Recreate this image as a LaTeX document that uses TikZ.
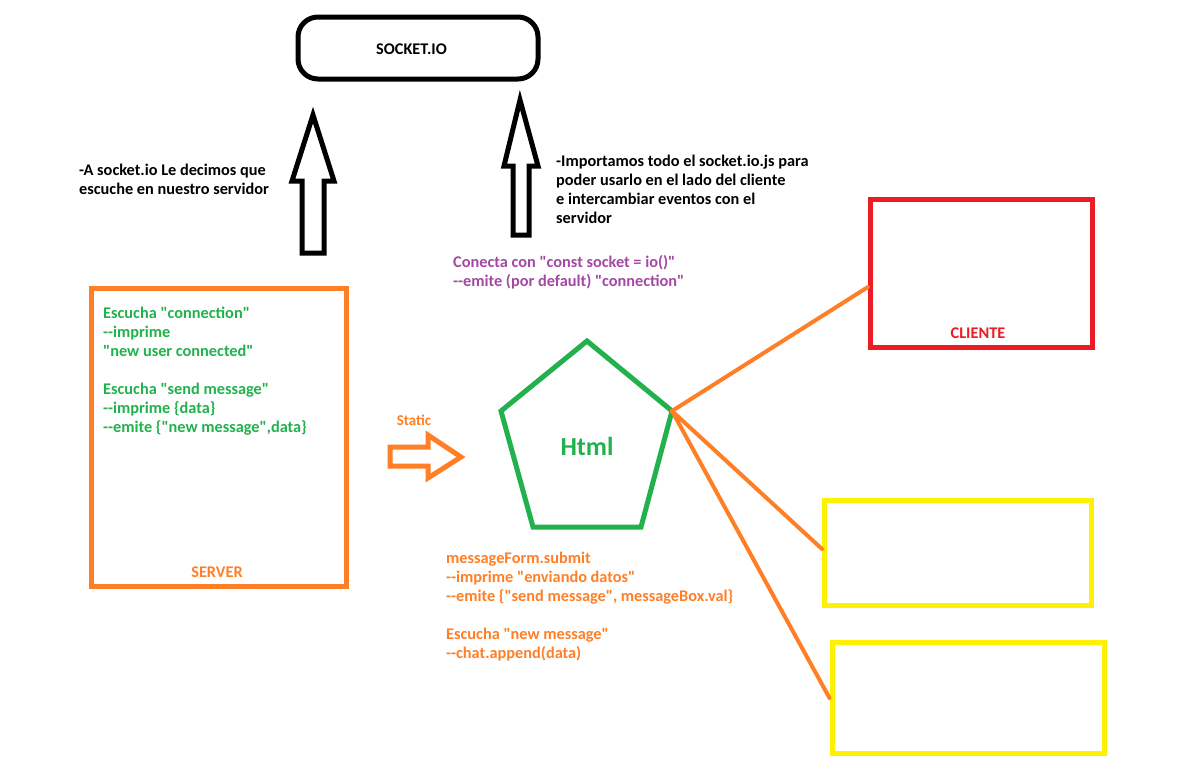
\documentclass[tikz,border=0pt]{standalone}
\usepackage{fontspec}
\setmainfont{Carlito}[Ligatures=TeXOff]
\usetikzlibrary{calc}
\definecolor{paintorange}{HTML}{FF7F27}
\definecolor{paintgreen}{HTML}{22B14C}
\definecolor{paintred}{HTML}{ED1C24}
\definecolor{paintyellow}{HTML}{FFF200}
\definecolor{paintpurple}{HTML}{A349A4}

\begin{document}
\begin{tikzpicture}[x=1pt, y=-1pt,
    txt/.style={font=\fontsize{16.3}{19}\selectfont\bfseries, align=left, anchor=base west, inner sep=0pt},
    boxline/.style={draw, line width=5pt, inner sep=0pt},
    link/.style={paintorange, line width=4pt, line cap=round}]
  \useasboundingbox (0,0) rectangle (1194,772);
  \fill[white] (0,0) rectangle (1194,772);

  % Socket.io box
  \node[boxline, rounded corners=20pt, minimum width=240pt, minimum height=62pt] (socket) at (418,48) {};
  \node[txt, anchor=base] (socketlbl) at (411.5,54) {SOCKET.IO};

  % Up arrows
  \draw[line width=5pt] (313,115) -- (334,181) -- (324,181) -- (324,253) -- (302,253) -- (302,181) -- (292,181) -- cycle;
  \draw[line width=5pt] (520,100) -- (538,166) -- (529,166) -- (529,235) -- (513,235) -- (513,166) -- (504,166) -- cycle;

  % Notes (anchored on the last line)
  \node[txt] (notaserver) at (79,194) {-A socket.io Le decimos que\\escuche en nuestro servidor};
  \node[txt] (notacliente) at (556,223) {-Importamos todo el socket.io.js para\\poder usarlo en el lado del cliente\\e intercambiar eventos con el\\servidor};
  \node[txt, paintpurple] (conecta) at (453,286) {Conecta con "const socket = io()"\\--emite (por default) "connection"};

  % Server
  \node[boxline, paintorange, minimum width=255.5pt, minimum height=298pt] (server) at (219,437) {};
  \node[txt, paintgreen] (servercode) at (103,432) {Escucha "connection"\\--imprime\\"new user connected"\\[19pt]Escucha "send message"\\--imprime \{data\}\\--emite \{"new message",data\}};
  \node[txt, paintorange, anchor=base] (serverlbl) at (217,577) {SERVER};

  % Static arrow
  \node[txt, paintorange, anchor=base, font=\fontsize{15}{18}\selectfont\bfseries] (staticlbl) at (414,425) {Static};
  \draw[paintorange, line width=5pt] (390,447) -- (428,447) -- (428,435) -- (461,457) -- (428,478) -- (428,466) -- (390,466) -- cycle;

  % Html pentagon
  \draw[paintgreen, line width=5pt] (587,341) -- (672,411) coordinate (htmlR) -- (641,527) -- (533,527) -- (501,411) -- cycle;
  \node[paintgreen, font=\fontsize{26}{30}\selectfont\bfseries] (html) at (587,446) {Html};
  \node[txt, paintorange] (htmlcode) at (446,658) {messageForm.submit\\--imprime "enviando datos"\\--emite \{"send message", messageBox.val\}\\[19pt]Escucha "new message"\\--chat.append(data)};

  % Client boxes
  \node[boxline, paintred, minimum width=222pt, minimum height=148pt] (cliente) at (981.5,273.5) {};
  \node[txt, paintred, anchor=base] (clientelbl) at (978,338) {CLIENTE};
  \node[boxline, paintyellow, minimum width=266.5pt, minimum height=105pt] (cajaA) at (957.75,553) {};
  \node[boxline, paintyellow, minimum width=272pt, minimum height=111.5pt] (cajaB) at (968,698) {};

  % Links
  \draw[link] (htmlR) -- ([yshift=-13.5pt]cliente.west);
  \draw[link] (htmlR) -- ([yshift=4pt]cajaA.west);
  \draw[link] (htmlR) -- (cajaB.west);
\end{tikzpicture}
\end{document}
